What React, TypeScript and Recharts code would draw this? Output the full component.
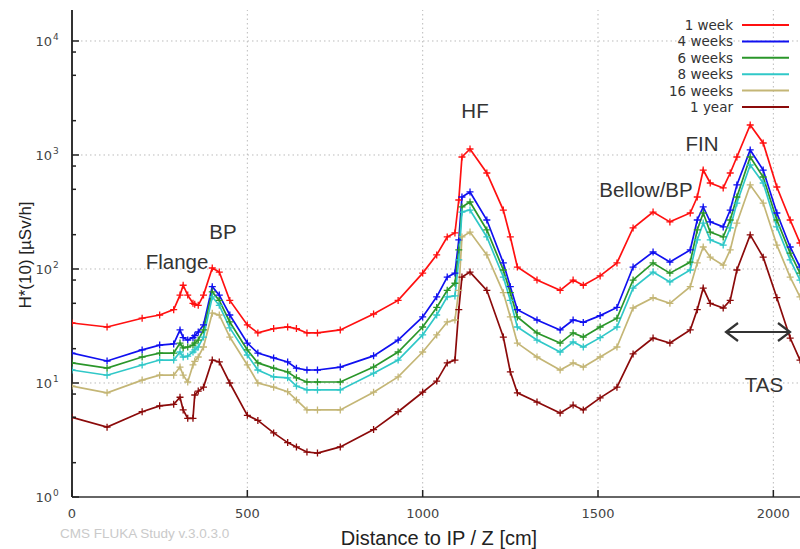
import React from "react";
import { LineChart, Line, XAxis, YAxis, ReferenceLine } from "recharts";

// distance to IP along Z [cm]
const distanceCm = [
  0, 100, 200, 250, 290, 308, 317, 330, 345, 350, 360, 375, 400, 420, 450, 500,
  530, 575, 615, 640, 670, 700, 765, 860, 930, 1000, 1040, 1070, 1092, 1103,
  1112, 1135, 1183, 1230, 1250, 1270, 1326, 1392, 1429, 1458, 1506, 1554, 1600,
  1657, 1705, 1763, 1783, 1800, 1820, 1857, 1877, 1896, 1934, 1971, 2010, 2048,
  2076,
];

// H*(10) [uSv/h] per cooling time
const week1 = [
  33.6, 31, 37, 39.5, 44, 59, 72, 59, 50, 49, 48, 59, 102, 94, 53, 32.3, 27.5,
  30, 31, 30, 27.5, 27.5, 29.2, 40.3, 53, 92, 133, 191, 207, 403, 960, 1129,
  695, 329, 191, 104, 80, 65, 80, 72, 87, 113, 229, 316, 259, 310, 428, 738,
  568, 514, 695, 960, 1833, 1274, 524, 269, 169,
];
const weeks4 = [
  18.3, 15.6, 19.5, 21.5, 22, 29.2, 25, 23.8, 25, 26, 28, 32.3, 70, 59, 39.5,
  22.4, 18.3, 16.6, 15.3, 13.5, 13, 13, 13.8, 17.3, 23.8, 38, 57, 85, 92, 180,
  428, 474, 269, 113, 70, 44, 35.7, 29.2, 35.7, 34, 39, 46, 104, 141, 115, 147,
  269, 350, 259, 234, 329, 546, 1107, 738, 310, 156, 104,
];
const weeks6 = [
  15, 13.5, 16.9, 18.3, 18.3, 22.4, 20.3, 20.7, 21.5, 22.4, 23.8, 29.2, 63, 53,
  34.3, 19.5, 15, 13.5, 12.5, 11.1, 10.2, 10.2, 10.2, 13.8, 18.7, 31, 46, 65,
  75, 147, 350, 387, 220, 98, 62, 38, 27.5, 22.4, 27.5, 25.3, 31, 37, 80, 113,
  92, 115, 220, 310, 211, 191, 269, 428, 960, 641, 269, 138, 92,
];
const weeks8 = [
  13, 11.7, 14.4, 15.9, 15.9, 18.7, 16.9, 17.2, 18.7, 19.5, 20.7, 25.3, 57, 48,
  30.4, 17.6, 13, 11.3, 11.1, 9.4, 8.7, 8.7, 8.7, 12.2, 15.9, 26.4, 39.5, 57,
  58, 120, 316, 329, 191, 85, 53, 31, 23.8, 18.7, 22.9, 20.7, 25, 31, 68, 94,
  77, 98, 180, 253, 180, 162, 229, 379, 817, 568, 234, 120, 80,
];
const weeks16 = [
  9.4, 8.2, 10.6, 11.7, 11.7, 13.8, 11.7, 10.2, 14.4, 15.5, 16.9, 20.7, 41,
  39.5, 25.3, 14.4, 10, 9.2, 8.4, 7.1, 5.8, 5.8, 5.8, 8.3, 11.3, 18.7, 26.4,
  34.3, 35.7, 65, 191, 211, 133, 62, 38, 22.4, 16.9, 13, 15, 13.8, 16.9, 20.7,
  45.5, 56, 50, 70, 113, 156, 127, 108, 147, 253, 546, 379, 162, 85, 57,
];
const year1 = [
  5.0, 4.1, 5.6, 6.3, 6.5, 7.5, 5.8, 4.9, 4.9, 7.85, 8.5, 9.2, 15.9, 15.3, 10,
  5.2, 4.7, 3.65, 3.0, 2.75, 2.48, 2.43, 2.75, 3.9, 5.6, 8.3, 10.4, 15, 15.9,
  44, 85, 94, 65, 25.3, 12.5, 8.2, 6.8, 5.45, 6.4, 5.8, 7.4, 9.2, 18, 24.8,
  22.4, 29.2, 44, 68, 50, 45.5, 53, 98, 199, 127, 56, 24.8, 15.9,
];

const seriesNames = ["1 week", "4 weeks", "6 weeks", "8 weeks", "16 weeks", "1 year"];
const seriesValues = [week1, weeks4, weeks6, weeks8, weeks16, year1];
const seriesColors = ["#ff1010", "#1010f0", "#2a962a", "#30c8c8", "#c4b676", "#8b0a0a"];

const xTicks = [0, 500, 1000, 1500, 2000];
const yMajor = [1, 10, 100, 1000, 10000];
const yTicks = [1, 2, 5, 8, 10, 20, 50, 80, 100, 200, 500, 800, 1000, 2000, 5000, 8000, 10000];

const data = distanceCm.map((d, i) => {
  const row: Record<string, number> = { d };
  seriesValues.forEach((vals, s) => {
    row["s" + s] = vals[i];
  });
  return row;
});

const font = "'Liberation Sans', Arial, sans-serif";
const tickFont = "'DejaVu Sans', sans-serif";

const PlusDot = (color: string) => (props: any) => {
  const { cx, cy, index } = props;
  if (cx == null || cy == null) return <g key={index} />;
  return (
    <path
      key={index}
      d={`M${cx - 3.5},${cy}h7M${cx},${cy - 3.5}v7`}
      stroke={color}
      strokeWidth={1.3}
      fill="none"
    />
  );
};

const YTick = (props: any) => {
  const { x, y, payload } = props;
  const v = payload.value;
  const major = yMajor.includes(v);
  return (
    <g>
      <line x1={x} x2={x + (major ? 7 : 4)} y1={y} y2={y} stroke="#222" strokeWidth={1.5} />
      {major && (
        <text x={x - 20} y={y + 5} textAnchor="end" fontSize={13} fill="#444" fontFamily={tickFont}>
          10
        </text>
      )}
      {major && (
        <text x={x - 19} y={y - 1} fontSize={9} fill="#444" fontFamily={tickFont}>
          {Math.round(Math.log10(v))}
        </text>
      )}
    </g>
  );
};

const XTick = (props: any) => {
  const { x, y, payload } = props;
  return (
    <g>
      <line x1={x} x2={x} y1={y} y2={y - 7} stroke="#222" strokeWidth={1.5} />
      <text x={x} y={y + 21} textAnchor="middle" fontSize={13} fill="#444" fontFamily={tickFont}>
        {payload.value}
      </text>
    </g>
  );
};

const TopTick = (props: any) => {
  const { x, y } = props;
  return <line x1={x} x2={x} y1={y} y2={y + 7} stroke="#222" strokeWidth={1.5} />;
};

export default function App() {
  return (
    <div
      style={{
        position: "absolute",
        left: 0,
        top: 0,
        width: 800,
        height: 549,
        background: "#fff",
        fontFamily: font,
        overflow: "hidden",
      }}
    >
      <LineChart width={800} height={549} data={data} margin={{ top: 10, right: 0, left: 0, bottom: 0 }}>
        <XAxis
          dataKey="d"
          type="number"
          domain={[0, 2076]}
          ticks={xTicks}
          interval={0}
          height={52}
          tickSize={0}
          tickMargin={0}
          tick={<XTick />}
          tickLine={false}
          axisLine={{ stroke: "#333", strokeWidth: 1.5 }}
          allowDataOverflow
        />
        <XAxis
          xAxisId="top"
          orientation="top"
          dataKey="d"
          type="number"
          domain={[0, 2076]}
          ticks={xTicks}
          interval={0}
          height={0}
          tickSize={0}
          tickMargin={0}
          tick={<TopTick />}
          tickLine={false}
          axisLine={{ stroke: "#333", strokeWidth: 1.5 }}
        />
        <YAxis
          type="number"
          scale="log"
          domain={[1, 18700]}
          allowDataOverflow
          ticks={yTicks}
          interval={0}
          width={72}
          tickSize={0}
          tickMargin={0}
          tick={<YTick />}
          tickLine={false}
          axisLine={{ stroke: "#333", strokeWidth: 2 }}
        />
        {yMajor.slice(1).map((v) => (
          <ReferenceLine key={"gy" + v} y={v} stroke="#bbb" strokeDasharray="1.5 3" />
        ))}
        {xTicks.slice(1).map((v) => (
          <ReferenceLine key={"gx" + v} x={v} stroke="#bbb" strokeDasharray="1.5 3" />
        ))}
        {seriesNames.map((name, s) => (
          <Line
            key={name}
            name={name}
            dataKey={"s" + s}
            type="linear"
            stroke={seriesColors[s]}
            strokeWidth={1.7}
            dot={PlusDot(seriesColors[s])}
            activeDot={false}
            isAnimationActive={false}
          />
        ))}
      </LineChart>

      <svg
        width={800}
        height={549}
        style={{ position: "absolute", left: 0, top: 0, pointerEvents: "none" }}
        fontFamily={font}
      >
        {seriesNames.map((name, s) => {
          const y = 25 + s * 16.4;
          return (
            <g key={name}>
              <text x={733} y={y + 5} textAnchor="end" fontSize={13.5} fill="#333" fontFamily={tickFont}>
                {name}
              </text>
              <line x1={742} x2={789} y1={y} y2={y} stroke={seriesColors[s]} strokeWidth={2} />
            </g>
          );
        })}
        <g fontSize={20.5} fill="#333">
          <text x={177} y={269} textAnchor="middle">Flange</text>
          <text x={223} y={239} textAnchor="middle">BP</text>
          <text x={475} y={118} textAnchor="middle">HF</text>
          <text x={646} y={197} textAnchor="middle">Bellow/BP</text>
          <text x={702} y={151} textAnchor="middle">FIN</text>
          <text x={764} y={392} textAnchor="middle">TAS</text>
        </g>
        <g stroke="#333" strokeWidth={2.2} fill="none">
          <line x1={726} x2={790} y1={332} y2={332} />
          <polyline points="738,323 726,332 738,341" />
          <polyline points="778,323 790,332 778,341" />
        </g>
        <text x={439} y={545} textAnchor="middle" fontSize={20} fill="#222">
          Distance to IP / Z [cm]
        </text>
        <text
          x={0}
          y={0}
          transform="translate(31,255) rotate(-90)"
          textAnchor="middle"
          fontSize={17}
          fill="#222"
        >
          H*(10) [µSv/h]
        </text>
        <text x={60} y={538} fontSize={13.5} fill="#cacaca">
          CMS FLUKA Study v.3.0.3.0
        </text>
      </svg>
    </div>
  );
}
